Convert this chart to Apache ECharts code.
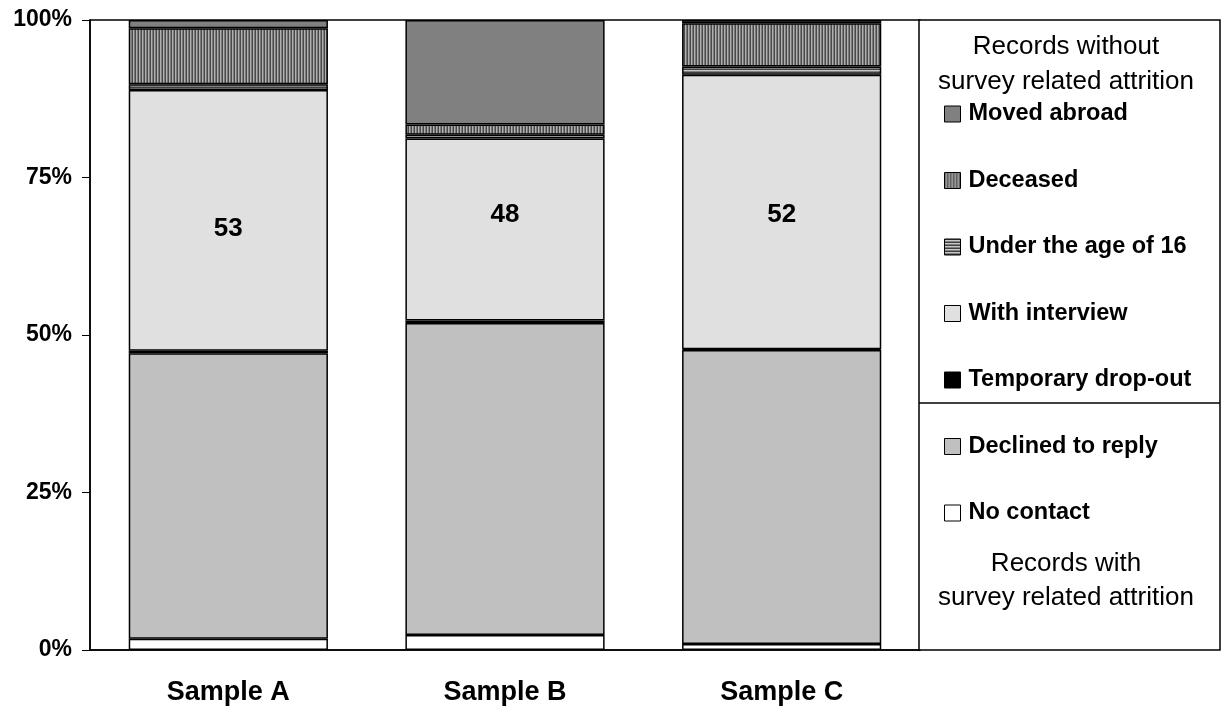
<!DOCTYPE html>
<html>
<head>
<meta charset="utf-8">
<script src="https://cdn.jsdelivr.net/npm/echarts@6/dist/echarts.min.js"></script>
<style>
html,body{margin:0;padding:0;background:#fff;}
#chart{width:1226px;height:715px;}
</style>
</head>
<body>
<div id="chart"></div>
<script>
// ---- data ----
const categories = ['Sample A', 'Sample B', 'Sample C'];
const noContact     = [1.8, 2.4, 0.95];
const declined      = [45.3, 49.5, 46.65];
const tempDropOut   = [0.4, 0.4, 0.15];
const withInterview = [41.4, 28.9, 43.55];
const under16       = [0.9, 0.6, 1.3];
const deceased      = [8.9, 1.6, 6.9];
const movedAbroad   = [1.3, 16.6, 0.5];
const interviewLabels = ['53', '48', '52'];
const interviewLabelPos = [66.8, 69.0, 69.0];
const yTicks = [0, 25, 50, 75, 100];
const legendTitleTop = ['Records without', 'survey related attrition'];
const legendTitleBottom = ['Records with', 'survey related attrition'];

function stripes(vertical, cols) {
  const n = cols.length;
  const c = document.createElement('canvas');
  c.width = vertical ? n : 4;
  c.height = vertical ? 4 : n;
  const ctx = c.getContext('2d');
  cols.forEach((col, i) => {
    ctx.fillStyle = col;
    if (vertical) ctx.fillRect(i, 0, 1, 4); else ctx.fillRect(0, i, 4, 1);
  });
  return { image: c, repeat: 'repeat' };
}

const FONT = 'Liberation Sans, Arial, sans-serif';
const seriesDefs = [
  { name: 'No contact', data: noContact, color: '#ffffff' },
  { name: 'Declined to reply', data: declined, color: '#c0c0c0' },
  { name: 'Temporary drop-out', data: tempDropOut, color: '#000000' },
  { name: 'With interview', data: withInterview, color: '#e0e0e0' },
  { name: 'Under the age of 16', data: under16, color: stripes(false, ['#404040', '#c8c8c8', '#808080']) },
  { name: 'Deceased', data: deceased, color: stripes(true, ['#4a4a4a', '#b0b0b0', '#7a7a7a']) },
  { name: 'Moved abroad', data: movedAbroad, color: '#808080' }
];

const series = seriesDefs.map(s => ({
  name: s.name,
  type: 'bar',
  stack: 'total',
  barWidth: '72%',
  data: s.data,
  itemStyle: { color: s.color, borderColor: '#000', borderWidth: 1.5 },
  emphasis: { disabled: true }
}));

series.push({
  name: 'labels',
  type: 'scatter',
  symbolSize: 0,
  z: 10,
  data: interviewLabelPos.map((v, i) => [i, v]),
  itemStyle: { opacity: 1 },
  label: {
    show: true,
    position: 'inside',
    formatter: p => interviewLabels[p.dataIndex],
    fontFamily: FONT, fontWeight: 'bold', fontSize: 26, color: '#000', opacity: 1
  },
  emphasis: { disabled: true }
});

const chart = echarts.init(document.getElementById('chart'), null, { renderer: 'canvas' });
chart.setOption({
  animation: false,
  backgroundColor: '#fff',
  grid: { left: 90, right: 306, top: 20, bottom: 65, show: true, borderColor: '#000', borderWidth: 1.5, backgroundColor: 'transparent' },
  xAxis: {
    type: 'category',
    data: categories,
    axisLine: { lineStyle: { color: '#000', width: 1.5 } },
    axisTick: { show: false },
    axisLabel: { fontFamily: FONT, fontWeight: 'bold', fontSize: 27, color: '#000', margin: 29 }
  },
  yAxis: {
    type: 'value',
    min: yTicks[0], max: yTicks[yTicks.length - 1], interval: 25,
    axisLine: { show: true, lineStyle: { color: '#000', width: 1.5 } },
    axisTick: { show: true, length: 8, lineStyle: { color: '#000', width: 1 } },
    splitLine: { show: false },
    axisLabel: { formatter: '{value}%', fontFamily: FONT, fontWeight: 'bold', fontSize: 23, color: '#000', margin: 18 }
  },
  legend: {
    orient: 'vertical',
    left: 944,
    top: 102,
    padding: 0,
    itemWidth: 16,
    itemHeight: 16,
    itemGap: 42.5,
    icon: 'rect',
    selectedMode: false,
    data: seriesDefs.map(s => s.name).reverse(),
    itemStyle: { borderColor: '#000', borderWidth: 1 },
    textStyle: { fontFamily: FONT, fontWeight: 'bold', fontSize: 23.5, lineHeight: 22, color: '#000', padding: [0, 0, 0, 3] }
  },
  graphic: [
    { type: 'rect', z: 3, shape: { x: 919, y: 20, width: 301, height: 630 }, style: { fill: '#fff', stroke: '#000', lineWidth: 1.5 } },
    { type: 'line', z: 4, shape: { x1: 919, y1: 403, x2: 1220, y2: 403 }, style: { stroke: '#000', lineWidth: 1.5 } },
    { type: 'text', z: 4, x: 1066, y: 47, style: { text: legendTitleTop[0], font: '26px ' + FONT, fill: '#000', textAlign: 'center', textVerticalAlign: 'middle' } },
    { type: 'text', z: 4, x: 1066, y: 82, style: { text: legendTitleTop[1], font: '26px ' + FONT, fill: '#000', textAlign: 'center', textVerticalAlign: 'middle' } },
    { type: 'text', z: 4, x: 1066, y: 564, style: { text: legendTitleBottom[0], font: '26px ' + FONT, fill: '#000', textAlign: 'center', textVerticalAlign: 'middle' } },
    { type: 'text', z: 4, x: 1066, y: 598, style: { text: legendTitleBottom[1], font: '26px ' + FONT, fill: '#000', textAlign: 'center', textVerticalAlign: 'middle' } }
  ],
  series: series
});
</script>
</body>
</html>
